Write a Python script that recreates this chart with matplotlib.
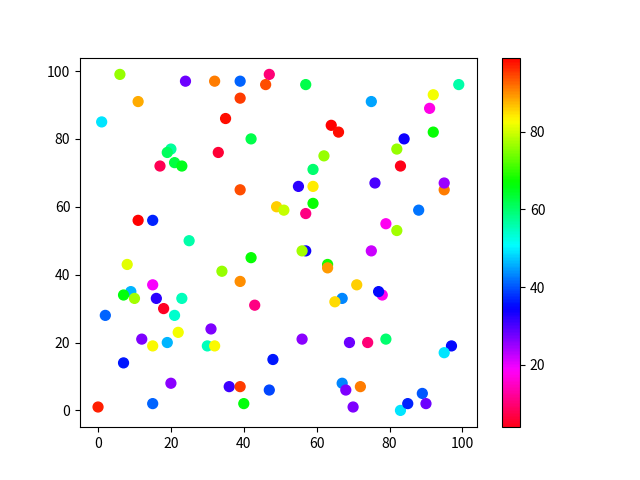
import numpy as np
import matplotlib
matplotlib.use('Agg')
import matplotlib.pyplot as plt

plt.rcParams['font.family'] = ['Noto Sans CJK SC', 'DejaVu Sans']

# points: x, y and colour value
x = [6, 24, 32, 39, 46, 47, 11, 39, 1, 35,
     42, 20, 19, 33, 21, 23, 17, 39, 11, 15,
     25, 57, 75, 92, 99, 91, 64, 66, 84, 92,
     82, 62, 83, 59, 55, 59, 76, 95, 95, 49,
     51, 59, 57, 88, 79, 82, 8, 42, 34, 39,
     15, 9, 7, 10, 16, 23, 18, 43, 21, 2,
     31, 22, 12, 15, 19, 30, 32, 7, 48, 20,
     36, 39, 47, 15, 40, 0, 57, 56, 75, 63,
     63, 71, 67, 65, 78, 77, 56, 69, 74, 79,
     97, 95, 67, 68, 72, 70, 83, 85, 89, 90]
y = [99, 97, 97, 97, 96, 99, 91, 92, 85, 86,
     80, 77, 76, 76, 73, 72, 72, 65, 56, 56,
     50, 96, 91, 93, 96, 89, 84, 82, 80, 82,
     77, 75, 72, 71, 66, 66, 67, 65, 67, 60,
     59, 61, 58, 59, 55, 53, 43, 45, 41, 38,
     37, 35, 34, 33, 33, 33, 30, 31, 28, 28,
     24, 23, 21, 19, 20, 19, 19, 14, 15, 8,
     7, 7, 6, 2, 2, 1, 47, 47, 47, 43,
     42, 37, 33, 32, 34, 35, 21, 20, 20, 21,
     19, 17, 8, 6, 7, 1, 0, 2, 5, 2]
c = [76, 28, 91, 41, 94, 10, 88, 95, 49, 98,
     62, 57, 61, 6, 63, 65, 8, 94, 99, 37,
     56, 62, 45, 82, 56, 17, 99, 98, 34, 67,
     76, 76, 4, 60, 32, 84, 30, 91, 25, 86,
     79, 67, 11, 42, 18, 77, 81, 67, 76, 90,
     19, 46, 66, 77, 32, 55, 5, 11, 54, 41,
     27, 82, 27, 83, 46, 55, 83, 36, 36, 26,
     31, 95, 39, 41, 66, 97, 34, 77, 22, 68,
     89, 86, 43, 85, 18, 35, 26, 28, 10, 60,
     35, 49, 43, 27, 91, 27, 49, 37, 40, 28]

plt.figure(figsize=(6.4, 4.8), dpi=100)
plt.scatter(x, y, c=c, cmap='hsv_r', s=50)
plt.colorbar()
plt.savefig('out.png')
